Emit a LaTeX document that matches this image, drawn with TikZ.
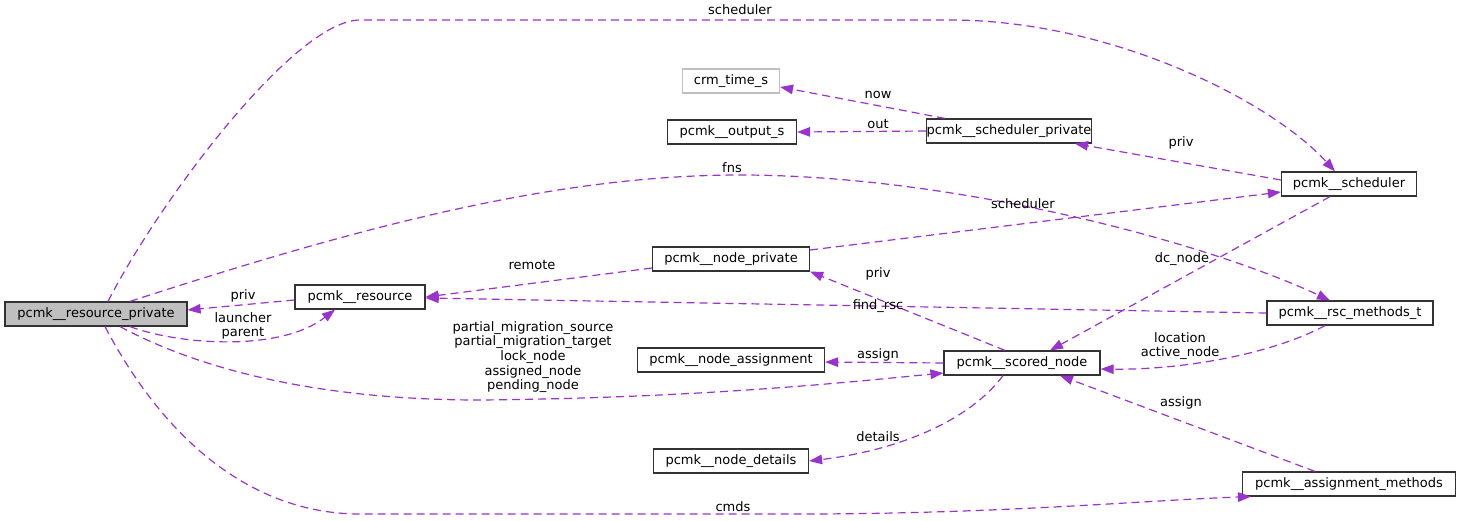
\documentclass[tikz,border=0pt]{standalone}
\usepackage{fontspec}
\setmainfont{DejaVu Sans}
\usetikzlibrary{arrows.meta}
\definecolor{edgec}{HTML}{9A32CD}
\definecolor{greyb}{HTML}{BFBFBF}
\begin{document}
\begin{tikzpicture}[x=1pt,y=-1pt,
  box/.style={draw=black!80,line width=1.2pt,minimum height=24pt,inner sep=0pt,font=\fontsize{13}{15}\selectfont,fill=white},
  lbl/.style={font=\fontsize{13}{14.6}\selectfont,align=center,inner sep=0pt},
  rel/.style={draw=edgec,line width=1.2pt,dash pattern=on 8pt off 5pt,-{Triangle[length=13pt,width=9.5pt,fill=edgec]}}]
\useasboundingbox (0,0) rectangle (1461,520);
% nodes
\node[box,fill=greyb,minimum width=182pt] (rp) at (96,314) {pcmk\_\_resource\_private};
\node[box,minimum width=130pt] (rs) at (360,297) {pcmk\_\_resource};
\node[box,draw=greyb,minimum width=97pt] (ct) at (731,81) {crm\_time\_s};
\node[box,minimum width=129pt] (os) at (732,132) {pcmk\_\_output\_s};
\node[box,minimum width=162pt] (sp) at (1009,131) {pcmk\_\_scheduler\_private};
\node[box,minimum width=135pt] (sch) at (1349,184) {pcmk\_\_scheduler};
\node[box,minimum width=157pt] (np) at (731,259) {pcmk\_\_node\_private};
\node[box,minimum width=166pt] (rm) at (1350,313) {pcmk\_\_rsc\_methods\_t};
\node[box,minimum width=187pt] (na) at (731,360) {pcmk\_\_node\_assignment};
\node[box,minimum width=156pt] (sn) at (1022,363) {pcmk\_\_scored\_node};
\node[box,minimum width=155pt] (nd) at (731,461) {pcmk\_\_node\_details};
\node[box,minimum width=213pt] (am) at (1349,484) {pcmk\_\_assignment\_methods};
% edges
\draw[rel] ([xshift=12pt]rp.north) .. controls (160,200) and (295,20) .. (360,20) -- (950,20) .. controls (1110,20) and (1270,100) .. ([xshift=-14pt]sch.north);
\draw[rel] ([xshift=-64pt]sp.north) -- ([yshift=-6pt]ct.east);
\draw[rel] (sp.west) -- (os.east);
\draw[rel] ([yshift=4pt]sch.west) -- ([xshift=66pt]sp.south);
\draw[rel] ([xshift=34pt]rp.north) .. controls (350,230) and (550,175) .. (740,175) .. controls (950,175) and (1200,240) .. ([xshift=-20pt]rm.north);
\draw[rel] ([yshift=9pt]np.east) -- ([yshift=-8pt]sch.west);
\draw[rel] ([yshift=-9pt]np.west) -- (rs.east);
\draw[rel] ([yshift=-3pt]rs.west) -- ([yshift=4pt]rp.east);
\draw[rel] ([xshift=34pt]rp.south) .. controls (180,345) and (280,352) .. ([xshift=-25pt]rs.south);
\draw[rel] ([xshift=-19pt]sch.south) -- ([xshift=28pt]sn.north);
\draw[rel] ([xshift=-17pt]sn.north) -- (np.south east);
\draw[rel] (rm.west) -- ([yshift=-1pt]rs.east);
\draw[rel] ([xshift=24pt]rp.south) .. controls (220,380) and (350,400) .. (480,400) .. controls (700,398) and (850,382) .. ([yshift=-10pt]sn.west);
\draw[rel] (sn.west) -- ([yshift=-2pt]na.east);
\draw[rel] ([xshift=-25pt]rm.south) .. controls (1270,355) and (1180,370) .. ([yshift=-6pt]sn.east);
\draw[rel] ([xshift=-19pt]sn.south) .. controls (970,420) and (900,450) .. (nd.east);
\draw[rel] ([xshift=-34pt]am.north) -- ([xshift=38pt]sn.south);
\draw[rel] ([xshift=9pt]rp.south) .. controls (170,450) and (260,514) .. (360,514) -- (800,514) .. controls (1000,514) and (1150,500) .. ([xshift=-98pt]am.south);
% labels
\node[lbl] (l1) at (740,10) {scheduler};
\node[lbl] (l2) at (878,95) {now};
\node[lbl] (l3) at (878,124) {out};
\node[lbl] (l4) at (1181,143) {priv};
\node[lbl] (l5) at (732,168) {fns};
\node[lbl] (l6) at (1023,204) {scheduler};
\node[lbl] (l7) at (532,265) {remote};
\node[lbl] (l8) at (243,296) {priv};
\node[lbl] (l9) at (243,326) {launcher\\parent};
\node[lbl] (l10) at (1182,259) {dc\_node};
\node[lbl] (l11) at (878,274) {priv};
\node[lbl] (l12) at (878,306) {find\_rsc};
\node[lbl] (l13) at (533,357) {partial\_migration\_source\\partial\_migration\_target\\lock\_node\\assigned\_node\\pending\_node};
\node[lbl] (l14) at (878,355) {assign};
\node[lbl] (l15) at (1180,346) {location\\active\_node};
\node[lbl] (l16) at (878,437) {details};
\node[lbl] (l17) at (1181,403) {assign};
\node[lbl] (l18) at (733,507) {cmds};
\end{tikzpicture}
\end{document}
